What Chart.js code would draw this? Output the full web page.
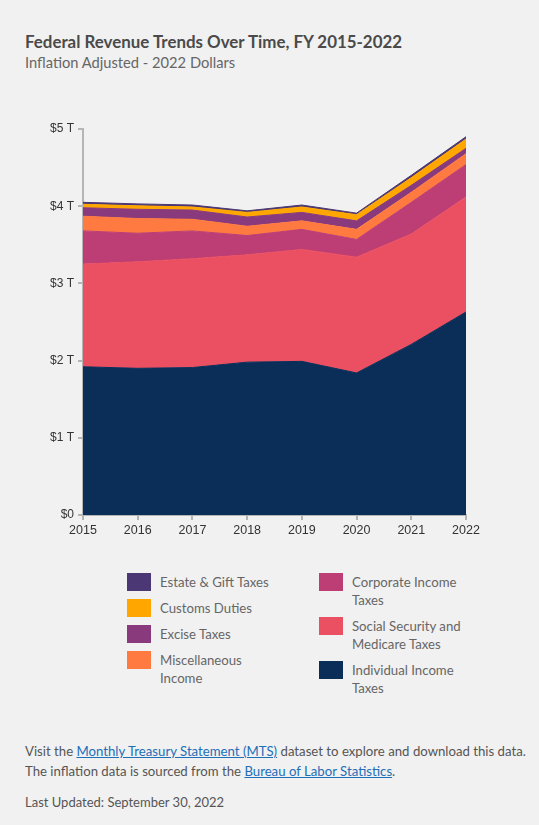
<!DOCTYPE html>
<html>
<head>
<meta charset="utf-8">
<script src="https://cdn.jsdelivr.net/npm/chart.js@4.4.0/dist/chart.umd.min.js"></script>
<style>
  html, body { margin: 0; padding: 0; background: #f1f1f1; }
  body { width: 539px; height: 825px; position: relative; overflow: hidden; font-family: Lato, "Open Sans", sans-serif; color: #555; }
  .title { position: absolute; left: 25px; top: 31px; font-size: 16.9px; font-weight: bold; color: #4a4a4a; }
  .subtitle { position: absolute; left: 25px; top: 53px; font-size: 14.7px; color: #666; }
  .chartbox { position: absolute; left: 0; top: 100px; width: 539px; height: 446px; }
  .legend { position: absolute; left: 127px; top: 573px; display: flex; }
  .legend .col { width: 192px; }
  .legend .item { display: flex; align-items: flex-start; margin-bottom: 8px; }
  .legend .sw { width: 24px; height: 18px; flex: none; margin-right: 9px; }
  .legend .lbl { width: 115px; font-size: 13.2px; line-height: 18px; color: #666; }
  .foot { position: absolute; left: 25px; top: 742px; font-size: 13.2px; line-height: 19.5px; color: #555; }
  .foot a { color: #1d6fb8; text-decoration: underline; }
  .updated { position: absolute; left: 25px; top: 794px; font-size: 13px; color: #555; }
</style>
</head>
<body>
<div class="title">Federal Revenue Trends Over Time, FY 2015-2022</div>
<div class="subtitle">Inflation Adjusted - 2022 Dollars</div>
<div class="chartbox"><canvas id="chart"></canvas></div>
<div class="legend" id="legend"></div>
<div class="foot">Visit the <a href="#">Monthly Treasury Statement (MTS)</a> dataset to explore and download this data.<br>The inflation data is sourced from the <a href="#">Bureau of Labor Statistics</a>.</div>
<div class="updated">Last Updated: September 30, 2022</div>
<script>
// fiscal years
const years = ['2015', '2016', '2017', '2018', '2019', '2020', '2021', '2022'];

// revenue by source, trillions of 2022 dollars
const individualIncome = [1.92, 1.90, 1.91, 1.98, 1.99, 1.84, 2.21, 2.63];
const socialSecurity = [1.33, 1.38, 1.41, 1.39, 1.45, 1.50, 1.43, 1.49];
const corporateIncome = [0.43, 0.37, 0.36, 0.25, 0.26, 0.23, 0.41, 0.42];
const miscIncome = [0.19, 0.19, 0.15, 0.12, 0.11, 0.13, 0.13, 0.14];
const exciseTaxes = [0.11, 0.12, 0.12, 0.12, 0.11, 0.11, 0.09, 0.07];
const customsDuties = [0.045, 0.045, 0.04, 0.06, 0.07, 0.08, 0.10, 0.12];
const estateGift = [0.025, 0.025, 0.025, 0.02, 0.025, 0.02, 0.03, 0.03];

const yTicks = [0, 1, 2, 3, 4, 5];

// bottom to top
const series = [
  { label: 'Individual Income Taxes', data: individualIncome, color: '#0b2e59' },
  { label: 'Social Security and Medicare Taxes', data: socialSecurity, color: '#eb5062' },
  { label: 'Corporate Income Taxes', data: corporateIncome, color: '#bd3e74' },
  { label: 'Miscellaneous Income', data: miscIncome, color: '#ff7a41' },
  { label: 'Excise Taxes', data: exciseTaxes, color: '#883a7c' },
  { label: 'Customs Duties', data: customsDuties, color: '#ffa600' },
  { label: 'Estate & Gift Taxes', data: estateGift, color: '#4a3774' }
];

// legend: left column from the top of the stack, right column the rest
const legendCols = [
  ['Estate & Gift Taxes', 'Customs Duties', 'Excise Taxes', 'Miscellaneous Income'],
  ['Corporate Income Taxes', 'Social Security and Medicare Taxes', 'Individual Income Taxes']
];
const legendEl = document.getElementById('legend');
legendCols.forEach(col => {
  const c = document.createElement('div');
  c.className = 'col';
  col.forEach(name => {
    const s = series.find(x => x.label === name);
    const it = document.createElement('div');
    it.className = 'item';
    it.innerHTML = '<div class="sw" style="background:' + s.color + '"></div><div class="lbl">' + name + '</div>';
    c.appendChild(it);
  });
  legendEl.appendChild(c);
});

const axisGrey = '#b5b5b5';

new Chart(document.getElementById('chart'), {
  type: 'line',
  data: {
    labels: years,
    datasets: series.map((s, i) => ({
      label: s.label,
      data: s.data,
      backgroundColor: s.color,
      borderColor: s.color,
      borderWidth: 1,
      pointRadius: 0,
      tension: 0,
      fill: i === 0 ? 'origin' : '-1'
    }))
  },
  options: {
    responsive: true,
    maintainAspectRatio: false,
    animation: false,
    layout: { padding: { top: 29, right: 73, left: 0, bottom: 0 } },
    plugins: { legend: { display: false }, tooltip: { enabled: false } },
    scales: {
      x: {
        offset: false,
        grid: { drawOnChartArea: false, color: axisGrey, lineWidth: 2, tickLength: 5 },
        border: { color: axisGrey, width: 2 },
        ticks: { color: '#333', font: { family: 'Liberation Sans', size: 12.5 }, padding: 3, maxRotation: 0 },
        afterFit: s => { s.height = 31; }
      },
      y: {
        stacked: true,
        min: 0,
        max: 5,
        afterBuildTicks: s => { s.ticks = yTicks.map(v => ({ value: v })); },
        grid: { drawOnChartArea: false, color: axisGrey, lineWidth: 2, tickLength: 5 },
        border: { color: axisGrey, width: 2 },
        ticks: {
          color: '#333',
          font: { family: 'Liberation Sans', size: 12 },
          padding: 4,
          callback: v => v === 0 ? '$0' : '$' + v + ' T'
        },
        afterFit: s => { s.width = 83; }
      }
    }
  }
});
</script>
</body>
</html>
